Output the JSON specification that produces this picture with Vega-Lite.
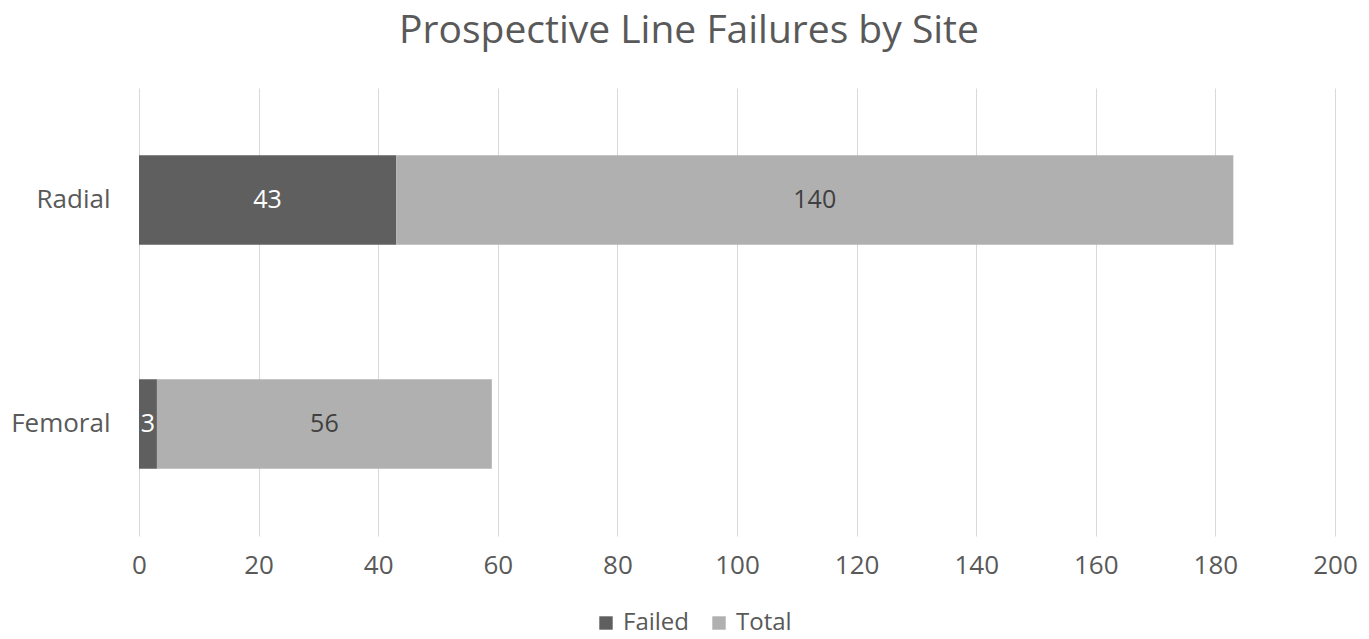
{
  "$schema": "https://vega.github.io/schema/vega-lite/v6.json",
  "autosize": "none",
  "width": 1196,
  "height": 448,
  "padding": {"left": 139, "top": 88, "right": 34, "bottom": 103},
  "background": "white",
  "title": {
    "text": "Prospective Line Failures by Site",
    "font": "Open Sans",
    "fontSize": 39,
    "fontWeight": "normal",
    "color": "#595959",
    "anchor": "middle",
    "baseline": "alphabetic",
    "offset": 6,
    "dx": -48
  },
  "config": {
    "view": {"stroke": null},
    "font": "Open Sans"
  },
  "data": {
    "values": [
      {"site": "Radial", "series": "Failed", "value": 43},
      {"site": "Radial", "series": "Total", "value": 140},
      {"site": "Femoral", "series": "Failed", "value": 3},
      {"site": "Femoral", "series": "Total", "value": 56}
    ]
  },
  "encoding": {
    "y": {
      "field": "site",
      "type": "nominal",
      "sort": ["Radial", "Femoral"],
      "title": null,
      "scale": {"paddingInner": 0.6, "paddingOuter": 0.3},
      "axis": {
        "domain": false,
        "ticks": false,
        "labelPadding": 29,
        "labelFontSize": 26,
        "labelColor": "#595959",
        "labelFont": "Open Sans"
      }
    },
    "x": {
      "field": "value",
      "type": "quantitative",
      "stack": "zero",
      "title": null,
      "scale": {"domain": [0, 200], "nice": false},
      "axis": {
        "values": [0, 20, 40, 60, 80, 100, 120, 140, 160, 180, 200],
        "domain": false,
        "ticks": false,
        "grid": true,
        "gridColor": "#d9d9d9",
        "gridWidth": 1,
        "labelFlush": false,
        "labelOverlap": false,
        "labelPadding": 16,
        "labelFontSize": 26,
        "labelColor": "#595959",
        "labelFont": "Open Sans"
      }
    },
    "order": {"field": "series", "sort": "ascending"}
  },
  "layer": [
    {
      "mark": {"type": "bar"},
      "encoding": {
        "color": {
          "field": "series",
          "type": "nominal",
          "scale": {"domain": ["Failed", "Total"], "range": ["#5f5f5f", "#b0b0b0"]},
          "legend": {
            "title": null,
            "orient": "none",
            "direction": "horizontal",
            "legendX": 455,
            "legendY": 523,
            "symbolType": "square",
            "symbolSize": 180,
            "symbolStrokeWidth": 0,
            "labelFontSize": 24,
            "labelColor": "#595959",
            "labelFont": "Open Sans",
            "labelOffset": 5,
            "columnPadding": 18
          }
        }
      }
    },
    {
      "mark": {"type": "text", "fontSize": 25, "font": "Open Sans", "align": "center", "baseline": "middle"},
      "encoding": {
        "x": {"field": "value", "type": "quantitative", "stack": "zero", "bandPosition": 0.5},
        "text": {"field": "value", "type": "quantitative"},
        "color": {
          "condition": {"test": "datum.series === 'Failed'", "value": "#ffffff"},
          "value": "#404040"
        }
      }
    }
  ]
}
